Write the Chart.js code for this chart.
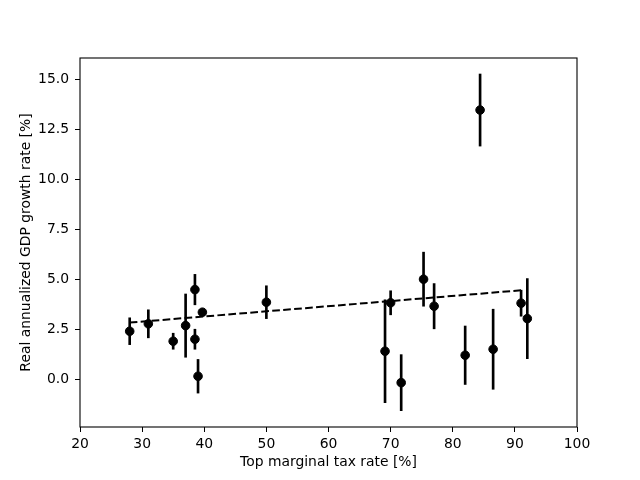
<!DOCTYPE html>
<html>
<head>
<meta charset="utf-8">
<script src="https://cdn.jsdelivr.net/npm/chart.js@4.4.0/dist/chart.umd.min.js"></script>
<style>
  html, body { margin: 0; padding: 0; background: #fff; }
  #wrap { width: 640px; height: 480px; }
</style>
</head>
<body>
<div id="wrap"><canvas id="growthChart" width="640" height="480"></canvas></div>
<script>
// top marginal tax rate [%] vs real annualized GDP growth [%]
const taxRate   = [28, 31, 35, 37, 38.5, 38.5, 39, 39.7, 50, 69.1, 70, 71.7, 75.3, 77, 82, 86.5, 91, 92, 84.4];
const growth    = [2.4, 2.77, 1.9, 2.68, 4.48, 2.0, 0.15, 3.35, 3.85, 1.4, 3.82, -0.17, 5.0, 3.65, 1.2, 1.5, 3.8, 3.03, 13.45];
const growthErr = [0.67, 0.7, 0.4, 1.58, 0.76, 0.5, 0.84, 0.15, 0.82, 2.57, 0.6, 1.4, 1.35, 1.13, 1.46, 2.0, 0.65, 2.0, 1.8];

// least squares trend line end points
const trendX = [28, 91.2];
const trendY = [2.83, 4.45];

const xTicks = [20, 30, 40, 50, 60, 70, 80, 90, 100];

Chart.defaults.font.family = "'DejaVu Sans', sans-serif";
Chart.defaults.font.size = 13.9;
Chart.defaults.color = '#000';

const points = taxRate.map((x, i) => ({x: x, y: growth[i]}));
const errBars = taxRate.map((x, i) => ({x: x, y: [growth[i] - growthErr[i], growth[i] + growthErr[i]]}));
const trend = trendX.map((x, i) => ({x: x, y: trendY[i]}));

const frame = {
  id: 'frame',
  afterDraw(chart) {
    const {ctx, chartArea: a} = chart;
    ctx.save();
    ctx.strokeStyle = '#000';
    ctx.lineWidth = 1.1;
    ctx.strokeRect(a.left, a.top, a.right - a.left, a.bottom - a.top);
    ctx.restore();
  }
};

new Chart(document.getElementById('growthChart'), {
  type: 'scatter',
  data: {
    datasets: [
      {
        type: 'bar',
        data: errBars,
        backgroundColor: '#000',
        barThickness: 2,
        order: 3
      },
      {
        type: 'line',
        data: trend,
        borderColor: '#000',
        borderWidth: 2,
        borderDash: [7.7, 3.3],
        pointRadius: 0,
        fill: false,
        order: 2
      },
      {
        type: 'scatter',
        data: points,
        backgroundColor: '#000',
        borderColor: '#000',
        pointRadius: 4.3,
        pointHoverRadius: 4.3,
        order: 1
      }
    ]
  },
  options: {
    responsive: false,
    animation: false,
    events: [],
    layout: { padding: { top: 58, right: 63, left: 0, bottom: 0 } },
    plugins: { legend: { display: false }, tooltip: { enabled: false } },
    scales: {
      x: {
        type: 'linear',
        offset: false,
        min: 20,
        max: 100,
        afterFit: s => { s.height = 53; },
        afterBuildTicks: s => { s.ticks = xTicks.map(v => ({value: v})); },
        ticks: { padding: 4, callback: v => String(v) },
        grid: { display: true, offset: false, drawOnChartArea: false, tickLength: 5, color: '#000', lineWidth: 1 },
        border: { display: false },
        title: { display: true, text: 'Top marginal tax rate [%]', padding: { top: 9, bottom: 9 } }
      },
      y: {
        type: 'linear',
        min: -2.385,
        max: 16.05,
        afterFit: s => { s.width = 80; },
        ticks: { stepSize: 2.5, includeBounds: false, padding: 6, callback: v => v.toFixed(1) },
        grid: { display: true, offset: false, drawOnChartArea: false, tickLength: 5, color: '#000', lineWidth: 1 },
        border: { display: false },
        title: { display: true, text: 'Real annualized GDP growth rate [%]', padding: { top: 18, bottom: 18 } }
      }
    }
  },
  plugins: [frame]
});
</script>
</body>
</html>
